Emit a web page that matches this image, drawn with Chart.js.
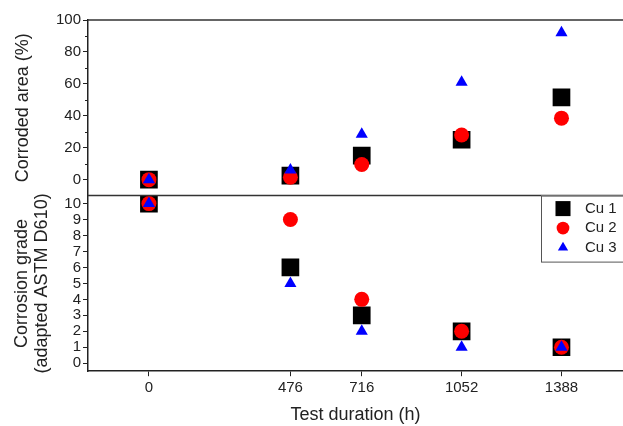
<!DOCTYPE html>
<html>
<head>
<meta charset="utf-8">
<script src="https://cdn.jsdelivr.net/npm/chart.js@4"></script>
<style>
  html, body { margin: 0; padding: 0; background: #fff; }
</style>
</head>
<body>
<canvas id="chart" width="623" height="426"></canvas>
<script>
const HOURS       = [0, 476, 716, 1052, 1388];
const AREA_CU1    = [0, 2.5, 15, 25, 51.5];
const AREA_CU2    = [0, 1.5, 9.5, 28, 38.5];
const AREA_CU3    = [0, 6, 28.5, 61, 92];
const GRADE_CU1   = [10, 6, 3, 2, 1];
const GRADE_CU2   = [10, 9, 4, 2, 1];
const GRADE_CU3   = [10, 5, 2, 1, 1];
const AREA_TICKS  = [0, 20, 40, 60, 80, 100];
const AREA_MINOR  = [10, 30, 50, 70, 90];
const GRADE_TICKS = [0, 1, 2, 3, 4, 5, 6, 7, 8, 9, 10];
const SERIES      = ['Cu 1', 'Cu 2', 'Cu 3'];

const INK = '#222';
const STYLES = [
  { pointStyle: 'rect',     color: '#000000', radius: 12.5 },
  { pointStyle: 'circle',   color: '#ff0000', radius: 7.5 },
  { pointStyle: 'triangle', color: '#0000ff', radius: 7 },
];

Chart.defaults.font.family = "'Liberation Sans', Arial, sans-serif";
Chart.defaults.color = INK;

const pts = ys => HOURS.map((h, i) => ({ x: h, y: ys[i] }));

function ds(label, ys, axis, s, order) {
  return {
    label, data: pts(ys), yAxisID: axis, order,
    pointStyle: s.pointStyle, pointRadius: s.radius, pointHoverRadius: s.radius,
    backgroundColor: s.color, borderColor: s.color, borderWidth: 0,
  };
}

const datasets = [
  ds(SERIES[0], AREA_CU1, 'yArea', STYLES[0], 3),
  ds(SERIES[1], AREA_CU2, 'yArea', STYLES[1], 2),
  ds(SERIES[2], AREA_CU3, 'yArea', STYLES[2], 1),
  ds(SERIES[0], GRADE_CU1, 'yGrade', STYLES[0], 3),
  ds(SERIES[1], GRADE_CU2, 'yGrade', STYLES[1], 2),
  ds(SERIES[2], GRADE_CU3, 'yGrade', STYLES[2], 1),
];

// frame lines, minor ticks and the boxed legend
const extras = {
  id: 'extras',
  afterDraw(chart) {
    const { ctx, chartArea: ca, scales } = chart;
    const ya = scales.yArea, yg = scales.yGrade;
    ctx.save();
    ctx.strokeStyle = '#333';
    ctx.lineWidth = 1.5;
    ctx.beginPath();
    ctx.moveTo(ca.left, ya.top); ctx.lineTo(ca.right, ya.top);
    ctx.moveTo(ca.left, yg.top); ctx.lineTo(ca.right, yg.top);
    ctx.stroke();

    ctx.lineWidth = 1;
    ctx.strokeStyle = INK;
    ctx.beginPath();
    AREA_MINOR.forEach(v => {
      const y = Math.round(ya.getPixelForValue(v)) + 0.5;
      ctx.moveTo(ca.left - 3, y); ctx.lineTo(ca.left, y);
    });
    ctx.stroke();

    const lx = ca.right - 82, ly = yg.top;
    ctx.fillStyle = '#fff';
    ctx.fillRect(lx, ly, 100, 66);
    ctx.strokeStyle = '#555';
    ctx.strokeRect(lx + 0.5, ly + 0.5, 100, 66);
    ctx.font = "15px 'Liberation Sans', Arial, sans-serif";
    ctx.textBaseline = 'middle';
    SERIES.forEach((name, i) => {
      const s = STYLES[i];
      const y = ly + 13 + i * 19.5;
      ctx.fillStyle = s.color;
      Chart.helpers.drawPoint(ctx, { pointStyle: s.pointStyle, radius: s.radius * 0.85, rotation: 0, borderWidth: 0 }, lx + 22, y);
      ctx.fillStyle = INK;
      ctx.fillText(name, lx + 44, y);
    });
    ctx.restore();
  }
};

const axisCommon = {
  grid: { drawOnChartArea: false, tickLength: 5, color: INK },
  border: { color: INK, width: 1.5 },
};
const tickFont = { size: 15 };
const titleFont = { size: 18, lineHeight: 1.1 };

new Chart(document.getElementById('chart'), {
  type: 'scatter',
  data: { datasets },
  plugins: [extras],
  options: {
    responsive: false,
    animation: false,
    devicePixelRatio: 1,
    layout: { autoPadding: false, padding: { top: 20, right: 0, bottom: 1, left: 0 } },
    plugins: { legend: { display: false }, tooltip: { enabled: false } },
    scales: {
      x: {
        type: 'linear', min: -205, max: 1595,
        afterBuildTicks: s => { s.ticks = HOURS.map(v => ({ value: v })); },
        afterFit: s => { s.paddingRight = 0; },
        ticks: { font: tickFont, padding: 3, maxRotation: 0, autoSkip: false, callback: v => String(v) },
        title: { display: true, text: 'Test duration (h)', font: titleFont, padding: { top: 5, bottom: 0 } },
        ...axisCommon,
      },
      yGrade: {
        type: 'linear', position: 'left', stack: 'panels', stackWeight: 1,
        min: -0.5, max: 10.5,
        afterBuildTicks: s => { s.ticks = GRADE_TICKS.map(v => ({ value: v })); },
        afterFit: s => { s.width = 88; },
        ticks: { font: tickFont, padding: 2, autoSkip: false },
        title: { display: true, text: ['Corrosion grade', '(adapted ASTM D610)'], font: titleFont, padding: { top: 12, bottom: 0 } },
        ...axisCommon,
      },
      yArea: {
        type: 'linear', position: 'left', stack: 'panels', stackWeight: 1,
        min: -10, max: 100,
        afterBuildTicks: s => { s.ticks = AREA_TICKS.map(v => ({ value: v })); },
        afterFit: s => { s.width = 88; },
        ticks: { font: tickFont, padding: 2, autoSkip: false },
        title: { display: true, text: 'Corroded area (%)', font: titleFont, padding: { top: 13, bottom: 0 } },
        ...axisCommon,
      },
    },
  },
});
</script>
</body>
</html>
